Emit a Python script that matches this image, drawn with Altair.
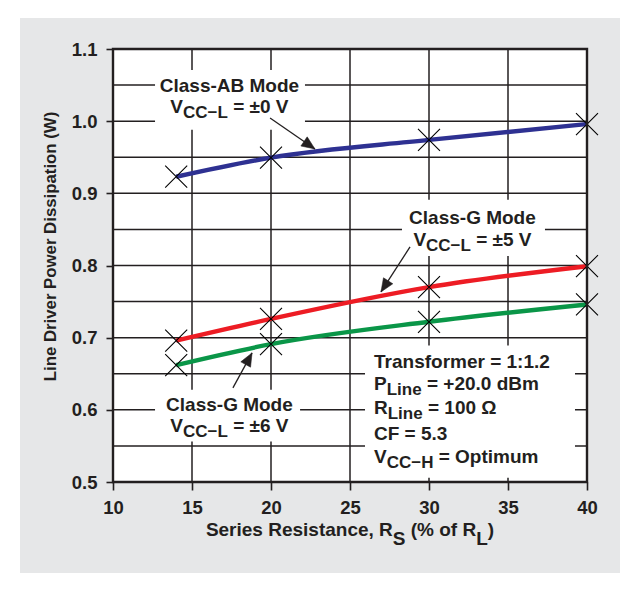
import math
import altair as alt
import pandas as pd

# ---------------- values ----------------
series_resistance = [14, 20, 30, 40]
class_ab_0v = [0.923, 0.9495, 0.974, 0.996]
class_g_5v = [0.696, 0.726, 0.770, 0.799]
class_g_6v = [0.662, 0.691, 0.722, 0.746]
series_labels = ["Class-AB, VCC-L = ±0 V", "Class-G, VCC-L = ±5 V", "Class-G, VCC-L = ±6 V"]
series_colors = ["#2e3192", "#ed1c24", "#0a9648"]

x_tick_values = [10, 15, 20, 25, 30, 35, 40]
y_tick_values = [0.5, 0.6, 0.7, 0.8, 0.9, 1.0, 1.1]
x_grid_values = [15, 20, 25, 30, 35]
y_grid_values = [0.55, 0.6, 0.65, 0.7, 0.75, 0.8, 0.85, 0.9, 0.95, 1.0, 1.05]
y_title = "Line Driver Power Dissipation (W)"

# white boxes behind the annotation texts (data units)
box_x1 = [12.66, 28.29, 12.66, 25.95]
box_x2 = [22.15, 37.34, 21.84, 39.24]
box_y1 = [0.988, 0.813, 0.556, 0.506]
box_y2 = [1.071, 0.891, 0.628, 0.689]

# arrows (data units)
arrow_from_x = [19.94, 28.80, 17.59]
arrow_from_y = [1.0044, 0.8258, 0.6305]
arrow_to_x = [22.78, 26.96, 18.80]
arrow_to_y = [0.9615, 0.7634, 0.6789]

# annotation lines: anchor x, baseline y, alignment, pieces (text, is_subscript)
label_lines = [
    (17.37, 1.0404, "center", [("Class-AB Mode", 0)]),
    (17.37, 1.0114, "center", [("V", 0), ("CC\u2212L", 1), (" = \u00b10 V", 0)]),
    (32.75, 0.8576, "center", [("Class-G Mode", 0)]),
    (32.75, 0.8271, "center", [("V", 0), ("CC\u2212L", 1), (" = \u00b15 V", 0)]),
    (17.37, 0.5986, "center", [("Class-G Mode", 0)]),
    (17.37, 0.5695, "center", [("V", 0), ("CC\u2212L", 1), (" = \u00b16 V", 0)]),
    (26.52, 0.6582, "left", [("Transformer = 1:1.2", 0)]),
    (26.52, 0.6277, "left", [("P", 0), ("Line", 1), (" = +20.0 dBm", 0)]),
    (26.52, 0.5945, "left", [("R", 0), ("Line", 1), (" = 100 \u03a9", 0)]),
    (26.52, 0.5584, "left", [("CF = 5.3", 0)]),
    (26.52, 0.5266, "left", [("V", 0), ("CC\u2212H", 1), (" = Optimum", 0)]),
]
x_title_line = (25.0, 0.4255, "center",
                [("Series Resistance, R", 0), ("S", 1), (" (% of R", 0), ("L", 1), (")", 0)])

# ---------------- styling / layout ----------------
W, H = 474, 433
X_DOM = [10, 40]
Y_DOM = [0.5, 1.1]
PX_X = W / (X_DOM[1] - X_DOM[0])
PX_Y = H / (Y_DOM[1] - Y_DOM[0])
DARK = "#231f20"
GRAY = "#e6e7e8"
FONT = "Liberation Sans, Arial, Helvetica, sans-serif"

CW = {' ': 278, '%': 889, '(': 333, ')': 333, '+': 584, ',': 278, '-': 333, '.': 278,
      ':': 333, '=': 584, '\u00b1': 549, '\u2212': 584, '\u03a9': 768,
      'A': 722, 'B': 722, 'C': 722, 'D': 722, 'E': 667, 'F': 611, 'G': 778, 'H': 722,
      'L': 611, 'M': 833, 'O': 778, 'P': 667, 'R': 722, 'S': 667, 'T': 611, 'V': 667,
      'W': 944, 'a': 556, 'b': 611, 'c': 556, 'd': 611, 'e': 556, 'f': 333, 'g': 611,
      'h': 611, 'i': 278, 'l': 278, 'm': 889, 'n': 611, 'o': 611, 'p': 611, 'r': 389,
      's': 556, 't': 333, 'u': 611, 'v': 556, 'w': 778}
for d in "0123456789":
    CW[d] = 556


def text_w(s, fs):
    return sum(CW.get(c, 556) for c in s) / 1000.0 * fs


def layout(line, fs_main, fs_sub, drop_px):
    ax, y, align, pieces = line
    widths = [text_w(t, fs_sub if sub else fs_main) for t, sub in pieces]
    cur = 0.0 if align == "left" else -sum(widths) / 2.0
    rows = []
    for (t, sub), w in zip(pieces, widths):
        fs = fs_sub if sub else fs_main
        stripped = t.lstrip(" ")
        lead = text_w(t[: len(t) - len(stripped)], fs)
        rows.append(dict(x=ax + (cur + lead) / PX_X,
                         y=y - (drop_px / PX_Y if sub else 0.0),
                         text=stripped, fs=fs))
        cur += w
    return rows


text_rows = []
for ln in label_lines:
    text_rows += layout(ln, 19, 17, 5.5)
text_rows += layout(x_title_line, 19, 19, 9)
text_df = pd.DataFrame(text_rows)

XS = alt.Scale(domain=X_DOM, nice=False, zero=False)
YS = alt.Scale(domain=Y_DOM, nice=False, zero=False)
AXX = alt.Axis(values=x_tick_values, title=None, grid=False, domain=False,
               tickSize=8, tickWidth=1.6, tickColor=DARK,
               labelFont=FONT, labelFontWeight="bold", labelFontSize=18.5,
               labelColor=DARK, labelPadding=8, labelFlush=False, zindex=1)
AXY = alt.Axis(values=y_tick_values, format=".1f", grid=False, domain=False,
               tickSize=7, tickWidth=1.6, tickColor=DARK,
               labelFont=FONT, labelFontWeight="bold", labelFontSize=18.5,
               labelColor=DARK, labelPadding=9, labelFlush=False,
               title=y_title, titleFont=FONT, titleFontWeight="bold",
               titleFontSize=16.8, titleColor=DARK, titleX=-63, titleY=197,
               titleAngle=270, titleAlign="center", titleBaseline="middle", zindex=1)


def X(f):
    return alt.X(f, type="quantitative", scale=XS, axis=AXX)


def Y(f):
    return alt.Y(f, type="quantitative", scale=YS, axis=AXY)


one = pd.DataFrame({"x0": [X_DOM[0]], "x1": [X_DOM[1]], "y0": [Y_DOM[0]], "y1": [Y_DOM[1]]})

# decorative gray panel behind the figure
panel = alt.Chart(one).mark_rect(fill=GRAY).encode(
    x=alt.value(-93), x2=alt.value(507), y=alt.value(-31), y2=alt.value(524))

plot_bg = alt.Chart(one).mark_rect(fill="white").encode(
    x=X("x0"), x2="x1", y=Y("y0"), y2="y1")

vgrid = alt.Chart(pd.DataFrame({"gx": x_grid_values})).mark_rule(
    color=DARK, strokeWidth=1.5).encode(x=X("gx"))
hgrid = alt.Chart(pd.DataFrame({"gy": y_grid_values})).mark_rule(
    color=DARK, strokeWidth=1.5).encode(y=Y("gy"))

boxes = alt.Chart(pd.DataFrame({"bx1": box_x1, "bx2": box_x2, "by1": box_y1, "by2": box_y2})
                  ).mark_rect(fill="white").encode(x=X("bx1"), x2="bx2", y=Y("by1"), y2="by2")

rows = []
for name, vals in zip(series_labels, [class_ab_0v, class_g_5v, class_g_6v]):
    for xv, yv in zip(series_resistance, vals):
        rows.append({"series": name, "rs": xv, "pd": yv})
curve_df = pd.DataFrame(rows)
color = alt.Color("series:N", scale=alt.Scale(domain=series_labels, range=series_colors), legend=None)

lines = alt.Chart(curve_df).mark_line(strokeWidth=4.4, interpolate="monotone").encode(
    x=X("rs"), y=Y("pd"), color=color, detail="series:N")

markers = alt.Chart(curve_df).mark_point(
    shape="M-1,-1L1,1M-1,1L1,-1", size=484, filled=False, stroke="black",
    strokeWidth=1.1, opacity=1).encode(x=X("rs"), y=Y("pd"))

arr_rows = []
for sx, sy, tx, ty in zip(arrow_from_x, arrow_from_y, arrow_to_x, arrow_to_y):
    dxp = (tx - sx) * PX_X
    dyp = -(ty - sy) * PX_Y
    ang = math.degrees(math.atan2(dxp, -dyp)) % 360
    arr_rows.append({"sx": sx, "sy": sy, "tx": tx, "ty": ty, "ang": ang})
arr_df = pd.DataFrame(arr_rows)

shafts = alt.Chart(arr_df).mark_rule(color=DARK, strokeWidth=1.3).encode(
    x=X("sx"), y=Y("sy"), x2="tx", y2="ty")
heads = alt.Chart(arr_df).mark_point(
    shape="M0,0L-0.42,1L0.42,1Z", size=700, filled=True, fill=DARK, stroke=DARK,
    strokeWidth=0.5, opacity=1).encode(
    x=X("tx"), y=Y("ty"), angle=alt.Angle("ang:Q", scale=None))

texts = alt.Chart(text_df).mark_text(
    align="left", baseline="alphabetic", font=FONT, fontWeight="bold", color=DARK).encode(
    x=X("x"), y=Y("y"), text="text:N", size=alt.Size("fs:Q", scale=None))

frame = alt.Chart(one).mark_rect(fill=None, stroke=DARK, strokeWidth=2.4).encode(
    x=X("x0"), x2="x1", y=Y("y0"), y2="y1")

chart = alt.layer(
    panel, plot_bg, vgrid, hgrid, boxes, lines, markers, shafts, heads, texts, frame
).properties(
    width=W, height=H,
    autosize=alt.AutoSizeParams(type="none"),
    padding={"left": 105, "top": 41, "right": 40, "bottom": 100},
    background="white",
).configure_view(stroke=None)

chart.save("out.html", embed_options={"renderer": "svg", "actions": False})
